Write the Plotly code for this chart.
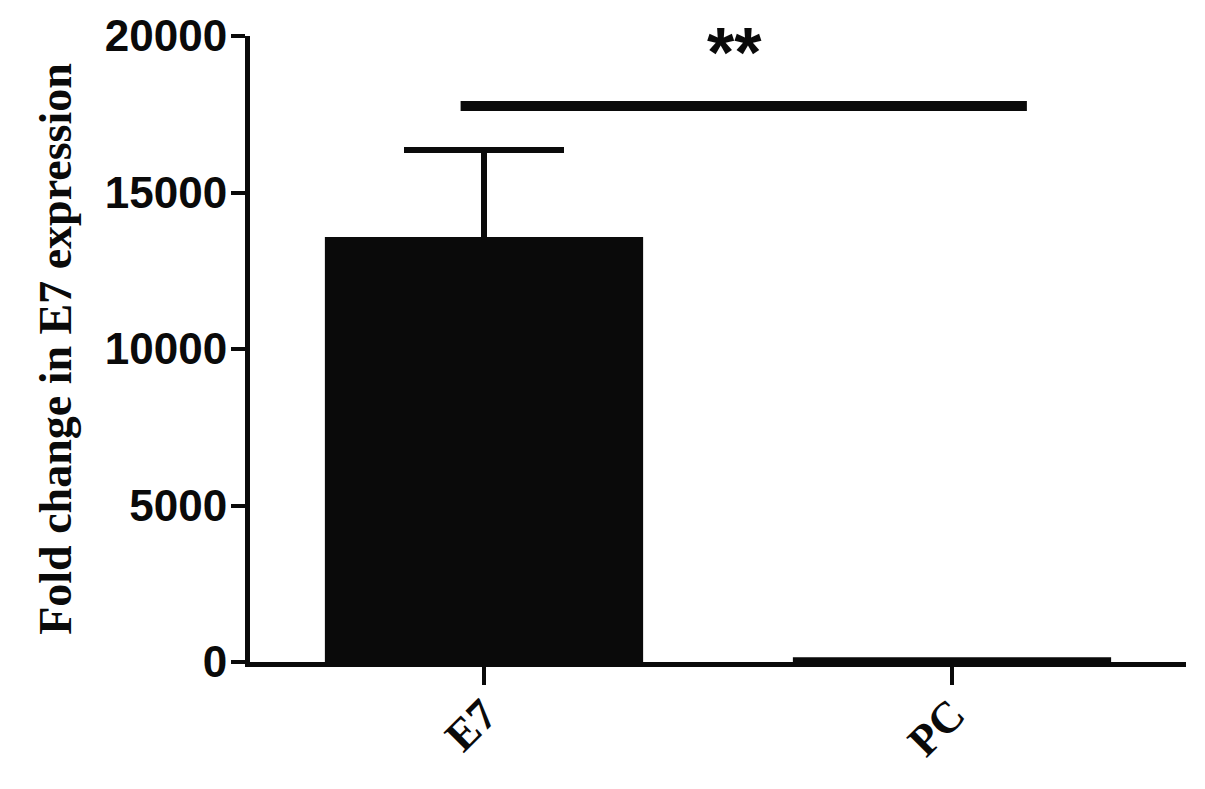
import plotly.graph_objects as go

# data
groups = ["E7", "PC"]
fold_change = [13580, 150]
sem = [2780, 0]
y_ticks = [0, 5000, 10000, 15000, 20000]

# significance bracket between the groups
sig_label = "**"
sig_level = 17760
sig_from, sig_to = -0.05, 1.16

fig = go.Figure()
# E7 gets its error bar; PC has none drawn in the reference
fig.add_trace(go.Bar(
    x=[0], y=fold_change[:1], width=0.68,
    marker=dict(color="#0a0a0a", line=dict(width=0)),
    error_y=dict(type="data", array=sem[:1], color="#0a0a0a", thickness=6, width=80),
))
fig.add_trace(go.Bar(
    x=[1], y=fold_change[1:], width=0.68,
    marker=dict(color="#0a0a0a", line=dict(width=0)),
))

fig.add_shape(
    type="line",
    xref="x", yref="y",
    x0=sig_from, x1=sig_to, y0=sig_level, y1=sig_level,
    line=dict(color="#0a0a0a", width=10),
)
fig.add_annotation(
    x=(sig_from + sig_to) / 2 - 0.02, y=sig_level,
    xref="x", yref="y",
    text=sig_label, showarrow=False,
    yanchor="bottom",
    yshift=12,
    font=dict(family="Liberation Sans", size=70, color="#0a0a0a", weight="bold"),
)

# page body has an 8px default margin, so margins are trimmed accordingly
fig.update_layout(
    width=1205, height=789,
    margin=dict(l=242, r=27, t=28, b=135),
    barmode="overlay",
    plot_bgcolor="white", paper_bgcolor="white",
    showlegend=False,
    font=dict(color="#0a0a0a"),
)

fig.update_xaxes(
    range=[-0.5, 1.5],
    tickvals=[0, 1], ticktext=groups,
    tickangle=-45,
    tickfont=dict(family="Liberation Serif", size=44, color="#0a0a0a", weight="bold"),
    ticklabelstandoff=-14,
    automargin=False,
    showline=True, linecolor="#0a0a0a", linewidth=5,
    ticks="outside", ticklen=18, tickwidth=4, tickcolor="#0a0a0a",
    showgrid=False, zeroline=False,
)
fig.update_yaxes(
    range=[0, 20000],
    tickvals=y_ticks,
    ticktext=[str(v) for v in y_ticks],
    tickfont=dict(family="Liberation Sans", size=44, color="#0a0a0a", weight="bold"),
    ticklabelstandoff=-5,
    automargin=False,
    showline=True, linecolor="#0a0a0a", linewidth=5,
    ticks="outside", ticklen=14, tickwidth=4, tickcolor="#0a0a0a",
    showgrid=False, zeroline=False,
    title=dict(
        text="Fold change in E7 expression",
        font=dict(family="Liberation Serif", size=46, color="#0a0a0a", weight="bold"),
        standoff=20,
    ),
)

fig.write_html("out.html")
